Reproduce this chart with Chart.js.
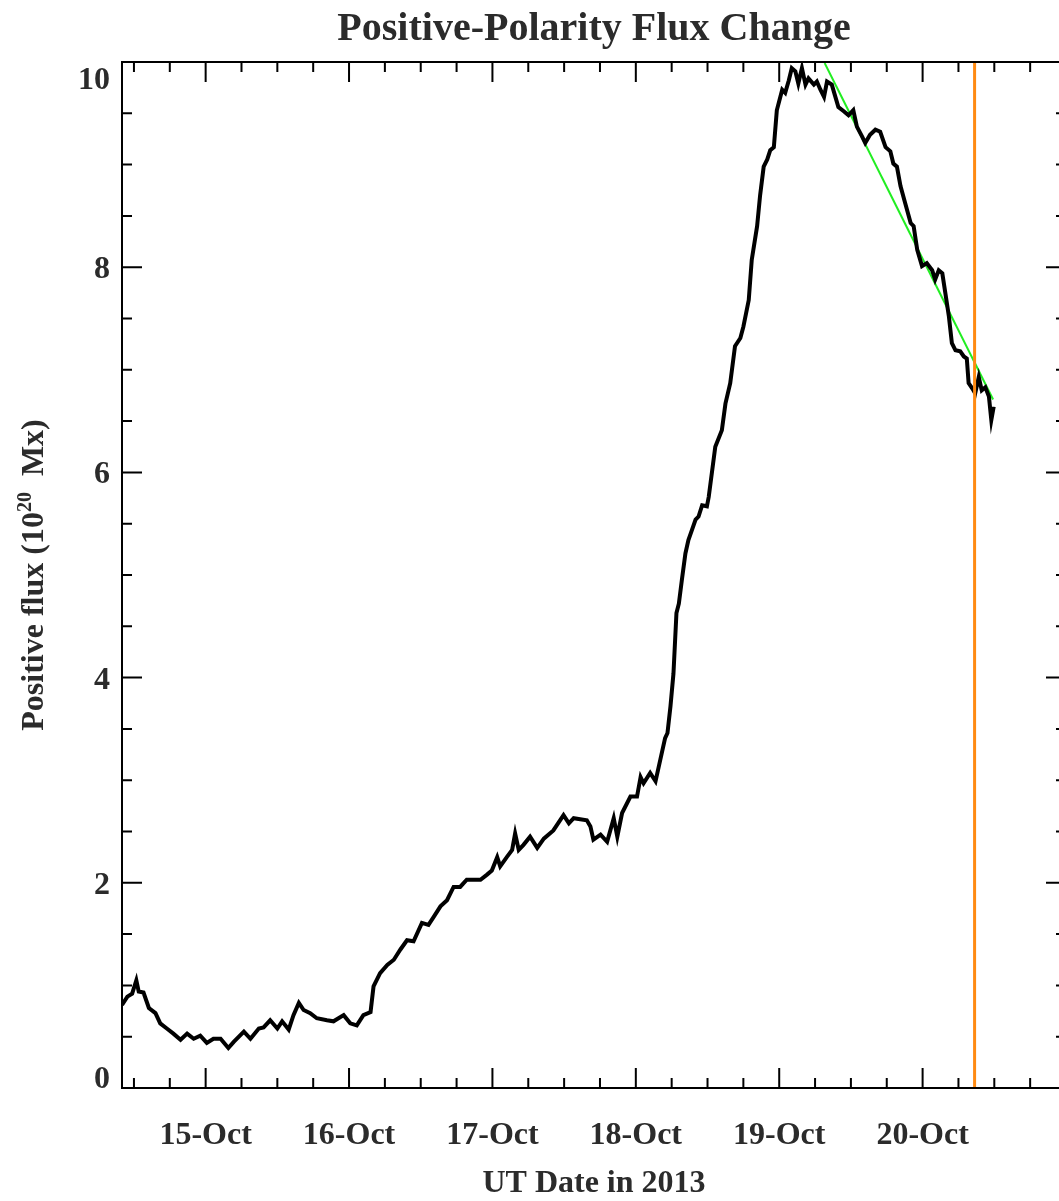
<!DOCTYPE html>
<html>
<head>
<meta charset="utf-8">
<script src="https://cdn.jsdelivr.net/npm/chart.js@4.4.1/dist/chart.umd.min.js"></script>
<style>
  html, body { margin: 0; padding: 0; background: #fff; overflow: hidden; }
  canvas { display: block; }
</style>
</head>
<body>
<canvas id="flux" width="1080" height="1201"></canvas>
<script>
'use strict';

// hours since 2013-10-14 00:00 UT
const hours = [
  10.0, 10.9, 11.7, 12.4, 12.8, 13.6, 14.5, 15.6, 16.4, 17.5,
  18.6, 19.8, 20.9, 22.0, 23.1, 24.2, 25.3, 26.5, 27.8, 28.7,
  30.4, 31.5, 32.9, 33.7, 34.8, 36.0, 36.8, 37.9, 38.7, 39.6,
  40.4, 41.5, 42.6, 44.3, 45.4, 47.1, 48.2, 49.3, 50.4, 51.6,
  52.1, 53.2, 54.4, 55.5, 56.6, 57.7, 58.8, 60.2, 61.3, 62.2,
  63.3, 64.4, 65.5, 66.6, 67.7, 68.9, 70.0, 71.1, 71.9, 72.8,
  73.3, 74.4, 75.3, 75.8, 76.4, 77.2, 78.3, 79.5, 80.6, 82.2,
  83.9, 84.8, 85.6, 87.8, 88.4, 88.9, 90.1, 91.2, 92.3, 92.9,
  93.7, 95.1, 96.2, 96.8, 97.3, 98.4, 99.3, 100.1, 100.9, 101.3,
  101.8, 102.3, 102.8, 103.2, 103.7, 104.3, 104.8, 105.4, 106.0, 106.5,
  107.1, 107.9, 108.2, 109.3, 110.4, 111.0, 111.8, 112.6, 113.5, 114.0,
  114.9, 115.4, 116.3, 116.8, 117.4, 118.0, 118.5, 119.1, 119.6, 120.5,
  121.0, 121.6, 122.1, 122.7, 123.2, 123.8, 124.4, 124.9, 125.8, 126.3,
  126.9, 127.5, 128.0, 128.8, 129.4, 129.9, 130.8, 131.6, 132.4, 133.0,
  133.9, 134.4, 135.2, 136.1, 136.9, 137.8, 138.6, 139.1, 139.7, 140.3,
  141.1, 142.0, 142.5, 143.1, 143.9, 144.7, 145.6, 146.1, 146.7, 147.3,
  147.8, 148.4, 148.9, 149.5, 150.3, 150.9, 151.4, 151.7, 152.3, 152.8,
  153.4, 153.9, 154.5, 155.1, 155.5, 155.9,
];

// positive flux, 10^20 Mx
const flux = [
  0.81, 0.89, 0.92, 1.05, 0.94, 0.93, 0.78, 0.73, 0.63, 0.58,
  0.53, 0.47, 0.53, 0.48, 0.51, 0.44, 0.48, 0.48, 0.39, 0.45,
  0.55, 0.48, 0.58, 0.59, 0.66, 0.58, 0.65, 0.57, 0.71, 0.83,
  0.76, 0.73, 0.68, 0.66, 0.65, 0.71, 0.63, 0.61, 0.71, 0.74,
  0.99, 1.12, 1.20, 1.25, 1.35, 1.44, 1.43, 1.61, 1.59, 1.67,
  1.77, 1.83, 1.96, 1.96, 2.03, 2.03, 2.03, 2.08, 2.12, 2.25,
  2.16, 2.25, 2.32, 2.48, 2.32, 2.37, 2.45, 2.34, 2.43, 2.51,
  2.66, 2.58, 2.63, 2.61, 2.55, 2.42, 2.47, 2.40, 2.63, 2.45,
  2.68, 2.84, 2.84, 3.03, 2.97, 3.07, 2.99, 3.20, 3.41, 3.46,
  3.72, 4.04, 4.63, 4.72, 4.95, 5.21, 5.34, 5.44, 5.54, 5.57,
  5.68, 5.67, 5.76, 6.25, 6.41, 6.67, 6.87, 7.23, 7.31, 7.42,
  7.68, 8.07, 8.40, 8.70, 8.98, 9.05, 9.14, 9.17, 9.53, 9.73,
  9.70, 9.82, 9.94, 9.91, 9.79, 9.94, 9.78, 9.84, 9.78, 9.81,
  9.73, 9.66, 9.81, 9.78, 9.66, 9.56, 9.52, 9.48, 9.53, 9.37,
  9.27, 9.21, 9.29, 9.34, 9.32, 9.17, 9.13, 9.01, 8.98, 8.79,
  8.62, 8.43, 8.40, 8.17, 8.01, 8.04, 7.97, 7.88, 7.97, 7.94,
  7.75, 7.52, 7.26, 7.19, 7.18, 7.13, 7.11, 6.87, 6.82, 6.77,
  6.93, 6.80, 6.83, 6.74, 6.51, 6.64,
];

// linear decay fit and marker time
const fitHours = [127.6, 155.8];
const fitFlux  = [9.99, 6.71];
const markHour = 152.7;

const dayHours  = [24, 48, 72, 96, 120, 144];
const dayLabels = ['15-Oct', '16-Oct', '17-Oct', '18-Oct', '19-Oct', '20-Oct'];
const fluxTicks = [0, 2, 4, 6, 8, 10];

const SERIF = '"Liberation Serif", "Times New Roman", serif';
const INK   = '#2b2b2b';

// IDL-style frame: inward ticks on all four sides, labels drawn from the scales
const idlFrame = {
  id: 'idlFrame',
  beforeDraw(chart) {
    const { ctx, width, height } = chart;
    ctx.save();
    ctx.fillStyle = '#fff';
    ctx.fillRect(0, 0, width, height);
    ctx.restore();
  },
  afterDatasetsDraw(chart) {
    const { ctx, chartArea: a, scales: { x, y } } = chart;
    ctx.save();
    ctx.strokeStyle = '#000';
    ctx.lineWidth = 2;
    ctx.strokeRect(a.left, a.top, a.right - a.left, a.bottom - a.top);

    ctx.beginPath();
    for (let h = 12; h < x.max; h += 6) {
      const px = x.getPixelForValue(h);
      const len = h % 24 === 0 ? 20 : 10;
      ctx.moveTo(px, a.bottom); ctx.lineTo(px, a.bottom - len);
      ctx.moveTo(px, a.top);    ctx.lineTo(px, a.top + len);
    }
    for (let v = 0; v <= y.max; v += 0.5) {
      const py = y.getPixelForValue(v);
      const len = v % 2 === 0 ? 20 : 10;
      ctx.moveTo(a.left, py);  ctx.lineTo(a.left + len, py);
      ctx.moveTo(a.right, py); ctx.lineTo(a.right - len, py);
    }
    ctx.stroke();

    ctx.fillStyle = INK;
    ctx.font = `bold 32px ${SERIF}`;
    ctx.textBaseline = 'alphabetic';

    ctx.textAlign = 'center';
    dayHours.forEach((h, i) => {
      ctx.fillText(dayLabels[i], x.getPixelForValue(h), a.bottom + 56);
    });

    ctx.textAlign = 'right';
    fluxTicks.forEach(v => {
      const py = y.getPixelForValue(v);
      const base = Math.min(Math.max(py + 11, a.top + 27), a.bottom);
      ctx.fillText(String(v), a.left - 12, base);
    });

    // x title
    const cx = (a.left + a.right) / 2;
    ctx.textAlign = 'center';
    ctx.fillText('UT Date in 2013', cx, a.bottom + 104);

    // main title
    ctx.font = `bold 40px ${SERIF}`;
    ctx.fillText('Positive-Polarity Flux Change', cx, 40);

    // y title with superscript
    const cy = (a.top + a.bottom) / 2;
    const big = `bold 32px ${SERIF}`;
    const small = `bold 20px ${SERIF}`;
    const parts = [
      { t: 'Positive flux (10', f: big, dy: 0 },
      { t: '20', f: small, dy: -12 },
      { t: '  Mx)', f: big, dy: 0 },
    ];
    let total = 0;
    parts.forEach(p => { ctx.font = p.f; p.w = ctx.measureText(p.t).width; total += p.w; });
    ctx.translate(43, cy);
    ctx.rotate(-Math.PI / 2);
    ctx.textAlign = 'left';
    let pos = -total / 2;
    parts.forEach(p => {
      ctx.font = p.f;
      ctx.fillText(p.t, pos, p.dy);
      pos += p.w;
    });
    ctx.restore();
  },
};

const fluxPoints = hours.map((h, i) => ({ x: h, y: flux[i] }));
const fitPoints  = fitHours.map((h, i) => ({ x: h, y: fitFlux[i] }));
const markPoints = [{ x: markHour, y: 0 }, { x: markHour, y: 10 }];

new Chart(document.getElementById('flux'), {
  type: 'line',
  plugins: [idlFrame],
  data: {
    datasets: [
      {
        data: markPoints,
        borderColor: '#ff8a12',
        borderWidth: 3,
        pointRadius: 0,
      },
      {
        data: fluxPoints,
        borderColor: '#000',
        borderWidth: 4,
        pointRadius: 0,
        tension: 0,
      },
      {
        data: fitPoints,
        borderColor: '#22ee22',
        borderWidth: 2,
        pointRadius: 0,
      },
    ],
  },
  options: {
    responsive: false,
    animation: false,
    devicePixelRatio: 1,
    layout: { padding: { left: 122, right: 14, top: 62, bottom: 113 } },
    plugins: {
      legend: { display: false },
      tooltip: { enabled: false },
    },
    scales: {
      x: { type: 'linear', min: 10, max: 168, display: false },
      y: { type: 'linear', min: 0, max: 10, display: false },
    },
  },
});
</script>
</body>
</html>
